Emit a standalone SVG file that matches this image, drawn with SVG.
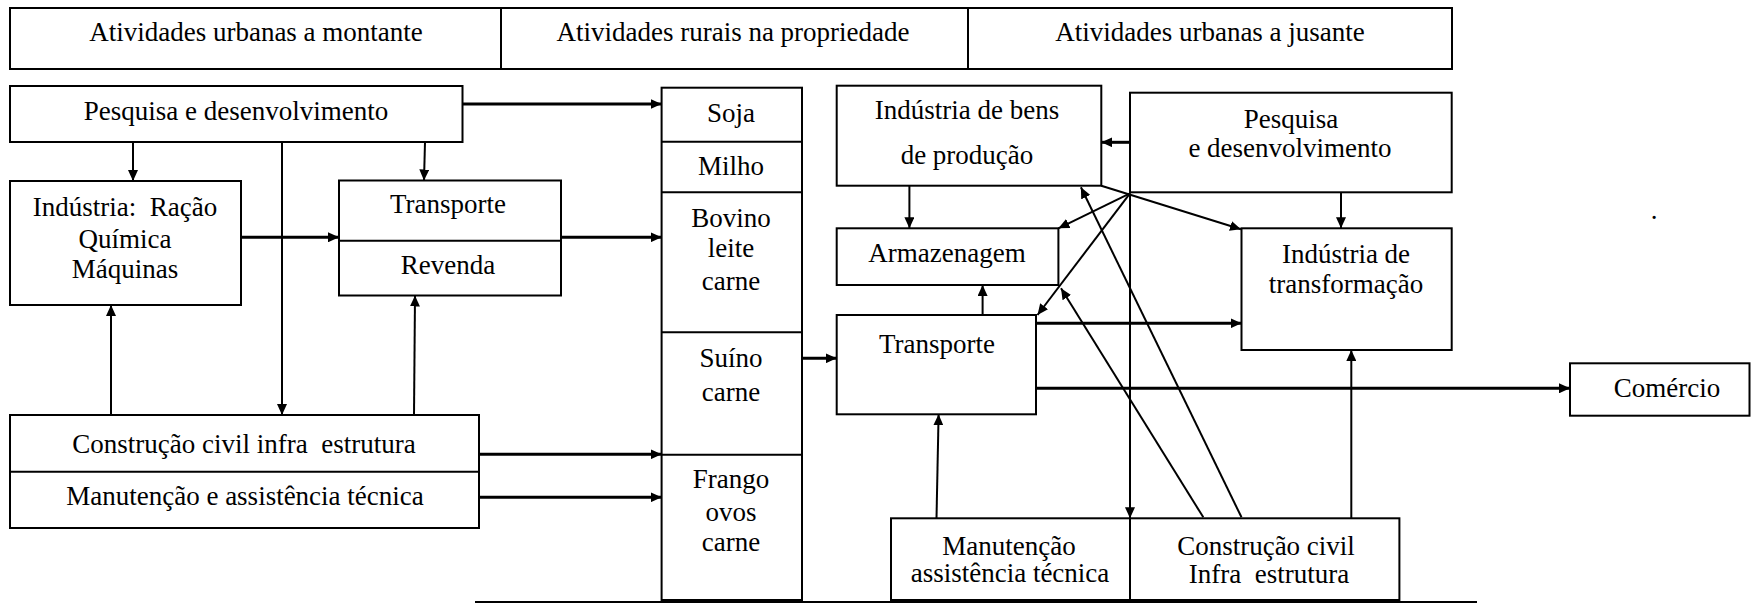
<svg xmlns="http://www.w3.org/2000/svg" width="1751" height="605" viewBox="0 0 1751 605" font-family="Liberation Serif, Times New Roman, serif">
<style>
.box{fill:#fff;stroke:#000;stroke-width:2}
.div{stroke:#000;stroke-width:2}
text{font-size:27px;fill:#000;text-anchor:middle}
.c{stroke:#000;stroke-width:2;fill:none;marker-end:url(#ah)}
.t{stroke-width:3}
.p{stroke:#000;stroke-width:2;fill:none}
</style>
<defs>
<marker id="ah" markerUnits="userSpaceOnUse" markerWidth="12" markerHeight="10" refX="11" refY="5" orient="auto">
<path d="M0,0 L11,5 L0,10 z" fill="#000"/>
</marker>
</defs>
<rect width="1751" height="605" fill="#fff"/>

<g id="header">
<rect class="box" x="10" y="8" width="1442" height="61"/>
<line class="div" x1="501" y1="8" x2="501" y2="69"/>
<line class="div" x1="968" y1="8" x2="968" y2="69"/>
<text x="256" y="41">Atividades urbanas a montante</text>
<text x="733" y="41">Atividades rurais na propriedade</text>
<text x="1210" y="41">Atividades urbanas a jusante</text>
</g>

<g id="pd-left">
<rect class="box" x="10" y="86" width="452.5" height="56"/>
<text x="236" y="120">Pesquisa e desenvolvimento</text>
</g>

<g id="industria-left">
<rect class="box" x="10" y="181" width="231" height="124"/>
<text x="125" y="216" xml:space="preserve">Indústria:  Ração</text>
<text x="125" y="248">Química</text>
<text x="125" y="278">Máquinas</text>
</g>

<g id="transporte-revenda">
<rect class="box" x="339" y="180.5" width="222" height="115"/>
<line class="div" x1="339" y1="240.7" x2="561" y2="240.7"/>
<text x="448" y="213">Transporte</text>
<text x="448" y="274">Revenda</text>
</g>

<g id="construcao-left">
<rect class="box" x="10" y="415" width="469" height="113"/>
<line class="div" x1="10" y1="471.7" x2="479" y2="471.7"/>
<text x="244" y="453" xml:space="preserve">Construção civil infra  estrutura</text>
<text x="245" y="505">Manutenção e assistência técnica</text>
</g>

<g id="produtos">
<rect class="box" x="661.6" y="87.7" width="140.4" height="512.3"/>
<line class="div" x1="661.6" y1="141.7" x2="802" y2="141.7"/>
<line class="div" x1="661.6" y1="192.3" x2="802" y2="192.3"/>
<line class="div" x1="661.6" y1="332.3" x2="802" y2="332.3"/>
<line class="div" x1="661.6" y1="454.7" x2="802" y2="454.7"/>
<text x="731" y="122">Soja</text>
<text x="731" y="175">Milho</text>
<text x="731" y="227">Bovino</text>
<text x="731" y="257">leite</text>
<text x="731" y="290">carne</text>
<text x="731" y="367">Suíno</text>
<text x="731" y="401">carne</text>
<text x="731" y="488">Frango</text>
<text x="731" y="521">ovos</text>
<text x="731" y="551">carne</text>
</g>

<g id="industria-bens">
<rect class="box" x="836.7" y="85.7" width="264.6" height="100"/>
<text x="967" y="119">Indústria de bens</text>
<text x="967" y="164">de produção</text>
</g>

<g id="pd-right">
<rect class="box" x="1130" y="92.7" width="321.7" height="99.6"/>
<text x="1291" y="128">Pesquisa</text>
<text x="1290" y="157">e desenvolvimento</text>
</g>

<g id="armazenagem">
<rect class="box" x="836.7" y="228.3" width="221.7" height="56.7"/>
<text x="947" y="262">Armazenagem</text>
</g>

<g id="industria-transformacao">
<rect class="box" x="1241.5" y="228.3" width="210.2" height="121.7"/>
<text x="1346" y="263">Indústria de</text>
<text x="1346" y="293">transformação</text>
</g>

<g id="transporte-right">
<rect class="box" x="836.7" y="315" width="199.3" height="99.3"/>
<text x="937" y="353">Transporte</text>
</g>

<g id="comercio">
<rect class="box" x="1570" y="363.3" width="179.5" height="52.4"/>
<text x="1667" y="397">Comércio</text>
</g>

<g id="manutencao-construcao-right">
<rect class="box" x="891" y="518.3" width="508.4" height="81.7"/>
<line class="div" x1="1130" y1="518.3" x2="1130" y2="600"/>
<text x="1009" y="555">Manutenção</text>
<text x="1010" y="582">assistência técnica</text>
<text x="1266" y="555">Construção civil</text>
<text x="1269" y="583" xml:space="preserve">Infra  estrutura</text>
</g>

<g id="connectors">
<line class="c t" x1="462.5" y1="104" x2="661.6" y2="104"/>
<line class="c" x1="133" y1="142" x2="133" y2="181"/>
<line class="c" x1="425" y1="142" x2="424" y2="180.5"/>
<line class="c" x1="282" y1="142" x2="282" y2="415"/>
<line class="c t" x1="241" y1="237.3" x2="339" y2="237.3"/>
<line class="c t" x1="561" y1="237.3" x2="661.6" y2="237.3"/>
<line class="c" x1="111" y1="415" x2="111" y2="305"/>
<line class="c" x1="414" y1="415" x2="415" y2="295.5"/>
<line class="c t" x1="479" y1="454.3" x2="661.6" y2="454.3"/>
<line class="c t" x1="479" y1="497.3" x2="661.6" y2="497.3"/>
<line class="c t" x1="802" y1="358.3" x2="836.7" y2="358.3"/>
<line class="c t" x1="1130" y1="142.3" x2="1101.3" y2="142.3"/>
<line class="c" x1="909.4" y1="185.7" x2="909.4" y2="228.3"/>
<line class="c" x1="1341" y1="192.3" x2="1341" y2="228.3"/>
<line class="c" x1="1130" y1="193.3" x2="1058.4" y2="228.3"/>
<line class="c" x1="1101.3" y1="185.7" x2="1241" y2="229.3"/>
<line class="c" x1="1130" y1="193.3" x2="1037.5" y2="315"/>
<line class="c" x1="1130" y1="193.3" x2="1130" y2="518.3"/>
<line class="c" x1="1241.5" y1="517.3" x2="1080.9" y2="187.3"/>
<line class="c" x1="1203.3" y1="517.3" x2="1061" y2="288.3"/>
<line class="c" x1="982.6" y1="315" x2="982.6" y2="285"/>
<line class="c t" x1="1036" y1="323.3" x2="1241.5" y2="323.3"/>
<line class="c t" x1="1036" y1="388.3" x2="1570" y2="388.3"/>
<line class="c" x1="936.5" y1="518.3" x2="938.6" y2="414.3"/>
<line class="c" x1="1351.3" y1="518.3" x2="1351.3" y2="350"/>
<line class="p t" x1="475" y1="602" x2="1477" y2="602"/>
</g>
<text x="1654" y="219" font-size="20">.</text>
</svg>
